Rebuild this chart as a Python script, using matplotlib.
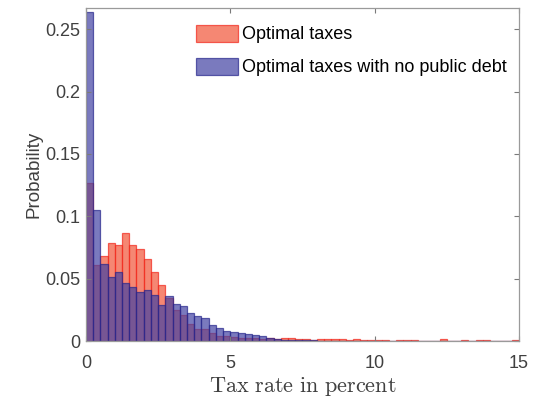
import numpy as np
import matplotlib
matplotlib.use("Agg")
import matplotlib.pyplot as plt

# histogram bins (percent), width 0.25
bin_edges = np.arange(0, 15.25, 0.25)

# probability per bin, optimal taxes
optimal = [0.1266, 0.0612, 0.0679, 0.0788, 0.0767, 0.0869, 0.0772, 0.0735, 0.0657, 0.0556,
           0.0452, 0.0345, 0.0246, 0.0206, 0.0139, 0.0094, 0.0094, 0.0067, 0.0040, 0.0040,
           0.0032, 0.0027, 0.0027, 0.0022, 0.0019, 0.0027, 0.0019, 0.0022, 0.0027, 0.0019,
           0.0013, 0.0006, 0.0019, 0.0016, 0.0019, 0.0013, 0.0011, 0.0013, 0.0008, 0.0008,
           0.0005, 0.0011, 0.0004, 0.0011, 0.0011, 0.0011, 0.0004, 0.0004, 0.0004, 0.0016,
           0.0004, 0.0004, 0.0011, 0.0004, 0.0008, 0.0008, 0.0004, 0.0003, 0.0003, 0.0008]

# probability per bin, optimal taxes with no public debt
no_debt = [0.2636, 0.1050, 0.0620, 0.0510, 0.0556, 0.0468, 0.0433, 0.0396, 0.0406, 0.0366,
           0.0286, 0.0364, 0.0294, 0.0278, 0.0228, 0.0198, 0.0188, 0.0126, 0.0107, 0.0083,
           0.0070, 0.0062, 0.0059, 0.0046, 0.0043, 0.0027, 0.0019, 0.0011, 0.0011, 0.0008,
           0.0006, 0.0005, 0.0003, 0.0002, 0.0001, 0.0001, 0.0001, 0.0001, 0.0, 0.0,
           0.0, 0.0, 0.0, 0.0, 0.0, 0.0, 0.0, 0.0, 0.0, 0.0,
           0.0, 0.0, 0.0, 0.0, 0.0, 0.0, 0.0, 0.0, 0.0, 0.0]

labels = ["Optimal taxes", "Optimal taxes with no public debt"]
xticks = [0, 5, 10, 15]
yticks = [0, 0.05, 0.1, 0.15, 0.2, 0.25]
ytick_labels = ["0", "0.05", "0.1", "0.15", "0.2", "0.25"]

sans = ["Liberation Sans", "DejaVu Sans"]
plt.rcParams["font.family"] = sans
plt.rcParams["mathtext.fontset"] = "cm"

fig = plt.figure(figsize=(5.35, 3.98), dpi=100)
ax = fig.add_axes([0.1607, 0.1432, 0.8093, 0.8368])

left = bin_edges[:-1]
w = bin_edges[1] - bin_edges[0]
ax.bar(left, optimal, width=w, align="edge", color=(0.95, 0.33, 0.22), alpha=0.7,
       edgecolor=(0.95, 0.15, 0.1), linewidth=0.9, label=labels[0])
ax.bar(left, no_debt, width=w, align="edge", color=(0.26, 0.26, 0.64), alpha=0.7,
       edgecolor=(0.15, 0.15, 0.55), linewidth=0.9, label=labels[1])

ax.set_xlim(0, 15)
ax.set_ylim(0, 0.267)
ax.set_xticks(xticks)
ax.set_xticklabels([str(t) for t in xticks])
ax.set_yticks(yticks)
ax.set_yticklabels(ytick_labels)

txt = "#404040"
for s in ax.spines.values():
    s.set_color("#9a9a9a")
    s.set_linewidth(0.9)
ax.tick_params(direction="in", length=3.5, width=0.8, color="#7a7a7a",
               labelsize=13, labelcolor=txt, top=True, right=True)
ax.tick_params(axis="x", pad=10)
ax.tick_params(axis="y", pad=4)

ax.set_ylabel("Probability", fontsize=13.5, color=txt, labelpad=2, family=sans)
ax.set_xlabel(r"$\mathrm{Tax\ rate\ in\ percent}$", fontsize=16, color=txt, labelpad=2)

leg = ax.legend(loc="upper left", bbox_to_anchor=(0.23, 0.982), frameon=False,
                fontsize=13, handlelength=2.3, handleheight=1.05,
                handletextpad=0.22, labelspacing=0.8, borderaxespad=0.2)
for t in leg.get_texts():
    t.set_color("black")

fig.savefig("out.png", dpi=100)
